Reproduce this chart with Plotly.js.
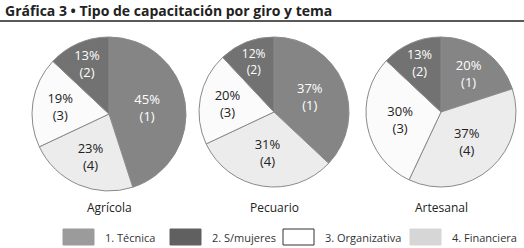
<!DOCTYPE html>
<html>
<head>
<meta charset="utf-8">
<script src="https://cdn.plot.ly/plotly-3.0.1.min.js"></script>
<style>
  html, body { margin: 0; padding: 0; background: #fff; }
  #chart { width: 524px; height: 248px; }
</style>
</head>
<body>
<div id="chart"></div>
<script>
// categories (topics) and sectors
const temas = ['1. Técnica', '2. S/mujeres', '3. Organizativa', '4. Financiera'];
const temaNums = ['1', '2', '3', '4'];
const giros = ['Agrícola', 'Pecuario', 'Artesanal'];

// percentages by sector, in the order of temas
const agricola = [45, 13, 19, 23];
const pecuario = [37, 12, 20, 31];
const artesanal = [20, 13, 30, 37];

const pieColors = ['#858585', '#727272', '#fbfbfb', '#ececec'];
const legendColors = ['#9b9b9b', '#606060', '#ffffff', '#d6d6d6'];
const textColors = ['#ffffff', '#ffffff', '#222222', '#222222'];

const W = 524, H = 248;
// pie centers and radius in pixels
const centers = [[109, 114], [274, 112], [441, 112]];
const radii = [77, 75, 75];

const series = [agricola, pecuario, artesanal];
const fontFam = '"Open Sans", "Noto Sans", sans-serif';

// clockwise from top the slices go 1, 4, 3, 2
const ord = [0, 3, 2, 1];

const traces = series.map((vals, i) => {
    const [cx, cy] = centers[i];
    const r = radii[i];
    return {
        type: 'pie',
        values: ord.map(k => vals[k]),
        labels: ord.map(k => temas[k]),
        customdata: ord.map(k => temaNums[k]),
        sort: false,
        direction: 'clockwise',
        rotation: 0,
        marker: {
            colors: ord.map(k => pieColors[k]),
            line: {color: '#8a8a8a', width: 1}
        },
        textinfo: 'text',
        texttemplate: '%{value}%<br>(%{customdata})',
        textposition: 'inside',
        insidetextorientation: 'horizontal',
        textfont: {family: fontFam, size: 13, color: ord.map(k => textColors[k])},
        hoverinfo: 'none',
        showlegend: false,
        domain: {
            x: [(cx - r) / W, (cx + r) / W],
            y: [1 - (cy + r) / H, 1 - (cy - r) / H]
        }
    };
});

const annotations = [];
const shapes = [];

// title
annotations.push({
    text: '<b>Gráfica 3 • Tipo de capacitación por giro y tema</b>',
    x: 3 / W, y: 1 - 11 / H, xref: 'paper', yref: 'paper',
    xanchor: 'left', yanchor: 'middle', showarrow: false,
    font: {family: fontFam, size: 14, color: '#222'}
});
shapes.push({
    type: 'line', xref: 'paper', yref: 'paper',
    x0: 0, x1: 1, y0: 1 - 21 / H, y1: 1 - 21 / H,
    line: {color: '#222', width: 1.5}
});

// sector names under each pie
giros.forEach((g, i) => {
    annotations.push({
        text: g, x: centers[i][0] / W, y: 1 - 207 / H,
        xref: 'paper', yref: 'paper', xanchor: 'center', yanchor: 'middle',
        showarrow: false, font: {family: fontFam, size: 12, color: '#222'}
    });
});

// legend swatches
const swX = [63, 170, 283, 410];
temas.forEach((t, i) => {
    shapes.push({
        type: 'rect', xref: 'paper', yref: 'paper',
        x0: swX[i] / W, x1: (swX[i] + 31) / W,
        y0: 1 - 245 / H, y1: 1 - 229 / H,
        fillcolor: legendColors[i],
        line: {color: i === 2 ? '#333' : legendColors[i], width: 1}
    });
    annotations.push({
        text: t, x: (swX[i] + 40) / W, y: 1 - 237 / H,
        xref: 'paper', yref: 'paper', xanchor: 'left', yanchor: 'middle',
        showarrow: false, font: {family: fontFam, size: 11, color: '#333'}
    });
});

Plotly.newPlot('chart', traces, {
    width: W, height: H,
    margin: {t: 0, b: 0, l: 0, r: 0},
    paper_bgcolor: '#fff',
    showlegend: false,
    annotations: annotations,
    shapes: shapes
}, {displayModeBar: false, staticPlot: true});
</script>
</body>
</html>
